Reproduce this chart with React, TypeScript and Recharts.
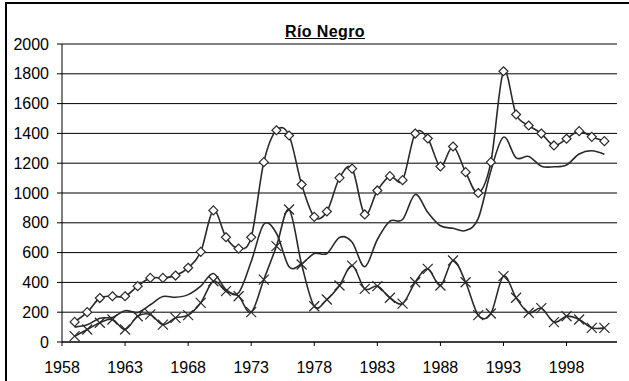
import React from 'react';
import { LineChart, Line, XAxis, YAxis, CartesianGrid } from 'recharts';

// yearly values, 1959 - 2001
const years = [
  1959, 1960, 1961, 1962, 1963, 1964, 1965, 1966, 1967, 1968,
  1969, 1970, 1971, 1972, 1973, 1974, 1975, 1976, 1977, 1978,
  1979, 1980, 1981, 1982, 1983, 1984, 1985, 1986, 1987, 1988,
  1989, 1990, 1991, 1992, 1993, 1994, 1995, 1996, 1997, 1998,
  1999, 2000, 2001,
];
const diamondSeries = [
  135, 200, 295, 307, 307, 375, 430, 430, 446, 498,
  605, 883, 703, 627, 703, 1207, 1421, 1386, 1057, 840,
  876, 1102, 1164, 856, 1017, 1113, 1086, 1399, 1366, 1178,
  1312, 1140, 1000, 1207, 1817, 1527, 1453, 1399, 1319, 1364,
  1415, 1377, 1348,
];
const plainSeries = [
  100, 115, 160, 165, 210, 198, 250, 305, 300, 318,
  375, 460, 352, 330, 540, 790, 730, 505, 525, 594,
  594, 702, 670, 505, 688, 811, 822, 990, 870, 780,
  763, 748, 830, 1150, 1375, 1236, 1245, 1180, 1176, 1188,
  1262, 1284, 1260,
];
const crossSeries = [
  39, 84, 129, 151, 84, 173, 185, 117, 162, 180,
  263, 408, 341, 307, 200, 419, 643, 889, 520, 240,
  285, 379, 513, 357, 375, 297, 258, 401, 491, 379,
  547, 401, 180, 191, 442, 297, 196, 227, 133, 173,
  151, 95, 95,
];
const xTicks = [1958, 1963, 1968, 1973, 1978, 1983, 1988, 1993, 1998];
const yTicks = [0, 200, 400, 600, 800, 1000, 1200, 1400, 1600, 1800, 2000];

const data = years.map((year, i) => ({
  year,
  a: diamondSeries[i],
  b: plainSeries[i],
  c: crossSeries[i],
}));

const FONT = '"Liberation Sans", Arial, sans-serif';
const INK = '#2a2a2a';

// Excel-style smoothing (Catmull-Rom bezier), handed to Recharts as a d3 curve factory
class SmoothCurve {
  _context: any;
  _line = NaN;
  _point = 0;
  _x0 = NaN; _x1 = NaN; _x2 = NaN;
  _y0 = NaN; _y1 = NaN; _y2 = NaN;
  constructor(context: any) {
    this._context = context;
  }
  areaStart() { this._line = 0; }
  areaEnd() { this._line = NaN; }
  lineStart() {
    this._x0 = this._x1 = this._x2 = NaN;
    this._y0 = this._y1 = this._y2 = NaN;
    this._point = 0;
  }
  lineEnd() {
    if (this._point === 2) this._context.lineTo(this._x2, this._y2);
    else if (this._point === 3) this.bez(this._x1, this._y1);
    if (this._line || (this._line !== 0 && this._point === 1)) this._context.closePath();
    this._line = 1 - this._line;
  }
  bez(x: number, y: number) {
    const k = 1 / 6;
    this._context.bezierCurveTo(
      this._x1 + k * (this._x2 - this._x0),
      this._y1 + k * (this._y2 - this._y0),
      this._x2 + k * (this._x1 - x),
      this._y2 + k * (this._y1 - y),
      this._x2,
      this._y2
    );
  }
  point(x: number, y: number) {
    x = +x; y = +y;
    if (this._point === 0) {
      this._point = 1;
      if (this._line) this._context.lineTo(x, y);
      else this._context.moveTo(x, y);
    } else if (this._point === 1) {
      this._point = 2;
      this._x1 = x; this._y1 = y;
    } else {
      this._point = 3;
      this.bez(x, y);
    }
    this._x0 = this._x1; this._x1 = this._x2; this._x2 = x;
    this._y0 = this._y1; this._y1 = this._y2; this._y2 = y;
  }
}
const smooth: any = (context: any) => new SmoothCurve(context);

const DiamondDot = (props: any) => {
  const { cx, cy, index } = props;
  if (cx == null || cy == null) return <g key={`d-${index}`} />;
  const r = 4.5;
  return (
    <path
      key={`d-${index}`}
      d={`M${cx},${cy - r}L${cx + r},${cy}L${cx},${cy + r}L${cx - r},${cy}Z`}
      fill="#fff"
      stroke={INK}
      strokeWidth={1.2}
    />
  );
};

const CrossDot = (props: any) => {
  const { cx, cy, index } = props;
  if (cx == null || cy == null) return <g key={`x-${index}`} />;
  const r = 5;
  return (
    <path
      key={`x-${index}`}
      d={`M${cx - r},${cy - r}L${cx + r},${cy + r}M${cx - r},${cy + r}L${cx + r},${cy - r}`}
      stroke={INK}
      strokeWidth={1.2}
      fill="none"
    />
  );
};

export default function App() {
  return (
    <div style={{ position: 'absolute', left: 0, top: 0, width: 629, height: 381, background: '#fff', overflow: 'hidden' }}>
      <div
        style={{
          position: 'absolute', left: 5, top: 2, width: 700, height: 500,
          borderTop: '2px solid #000', borderLeft: '2px solid #000',
        }}
      />
      <div
        style={{
          position: 'absolute', left: 0, top: 24, width: 650, textAlign: 'center',
          fontFamily: FONT, fontWeight: 'bold', fontSize: 16, lineHeight: '16px',
          textDecoration: 'underline', letterSpacing: 0.4, color: '#000',
        }}
      >
        Río Negro
      </div>
      <LineChart
        width={629}
        height={381}
        data={data}
        margin={{ top: 44, right: 12, left: 0, bottom: 9 }}
        style={{ position: 'absolute', left: 0, top: 0 }}
      >
        <CartesianGrid vertical={false} stroke="#000" strokeWidth={1} />
        <XAxis
          dataKey="year"
          type="number"
          domain={[1958, 2002]}
          ticks={xTicks}
          interval={0}
          height={30}
          tickSize={4}
          tickMargin={16}
          axisLine={{ stroke: '#000' }}
          tickLine={{ stroke: '#000' }}
          tick={{ fill: '#000', fontSize: 16, fontFamily: FONT }}
        />
        <YAxis
          type="number"
          domain={[0, 2000]}
          ticks={yTicks}
          interval={0}
          width={62}
          tickSize={5}
          tickMargin={8}
          axisLine={{ stroke: '#000' }}
          tickLine={{ stroke: '#000' }}
          tick={{ fill: '#000', fontSize: 16, fontFamily: FONT }}
        />
        <Line
          dataKey="b"
          type={smooth}
          stroke={INK}
          strokeWidth={1.6}
          dot={false}
          activeDot={false}
          isAnimationActive={false}
        />
        <Line
          dataKey="c"
          type={smooth}
          stroke={INK}
          strokeWidth={1.6}
          dot={CrossDot}
          activeDot={false}
          isAnimationActive={false}
        />
        <Line
          dataKey="a"
          type={smooth}
          stroke={INK}
          strokeWidth={1.6}
          dot={DiamondDot}
          activeDot={false}
          isAnimationActive={false}
        />
      </LineChart>
    </div>
  );
}
